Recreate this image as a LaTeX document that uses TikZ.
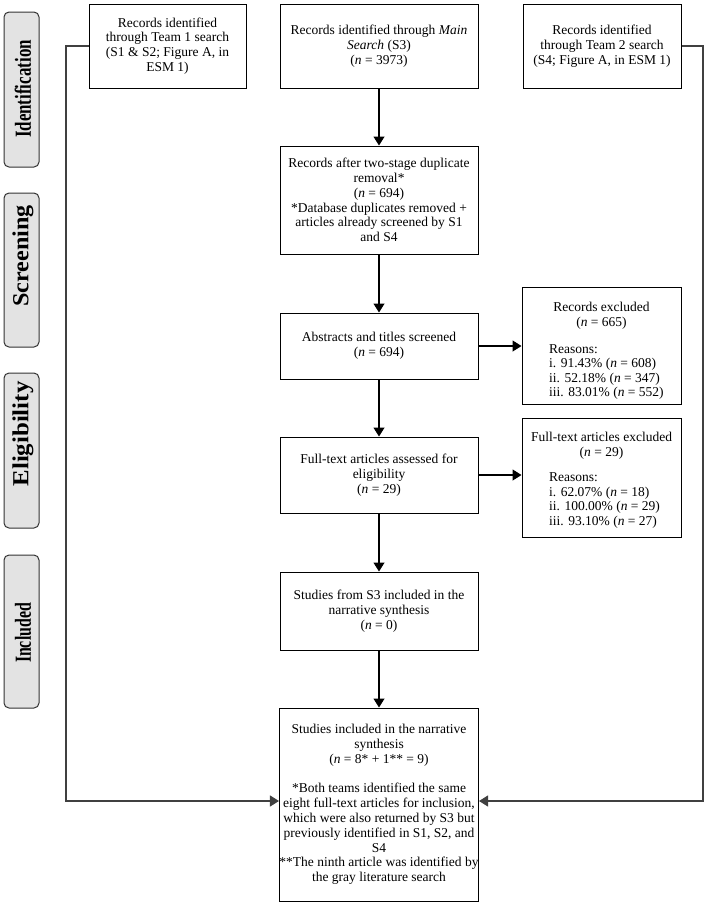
\documentclass[tikz,border=0pt]{standalone}
\usepackage{fontspec}
\setmainfont{Liberation Serif}
\usetikzlibrary{arrows.meta}
\begin{document}
\begin{tikzpicture}[x=1pt,y=-1pt,
  box/.style={draw=black, line width=1pt, align=center, inner sep=0pt,
    font=\fontsize{13.5}{14.8}\selectfont},
  txt/.style={align=center, inner sep=0pt, font=\fontsize{13.5}{14.8}\selectfont},
  txtl/.style={align=left, inner sep=0pt, anchor=west, font=\fontsize{13.5}{14.5}\selectfont},
  phase/.style={draw=black!80, fill=black!11, rounded corners=5pt, line width=1pt, minimum width=35pt, inner sep=0pt},
  phasetext/.style={rotate=90, inner sep=0pt, font=\fontsize{23}{23}\selectfont\bfseries},
  conn/.style={line width=1.2pt, draw=black!75},
  arr/.style={line width=1.2pt, draw=black, -{Triangle[width=11pt,length=9pt]}},
  arrg/.style={line width=1.2pt, draw=black!75, -{Triangle[width=11pt,length=9pt]}}
]
\fill[white] (0,0) rectangle (710,908);
\useasboundingbox (0,0) rectangle (710,908);

% phase labels
\node[phase, minimum height=155pt] (idbox) at (21.5,89.5) {};
\node[phasetext] (idtxt) at (23,89) {\scalebox{0.737}[1]{Identification}};
\node[phase, minimum height=154pt] (scrbox) at (21.5,270) {};
\node[phasetext] (scrtxt) at (23,256) {\scalebox{1.05}[1]{Screening}};
\node[phase, minimum height=155pt] (elbox) at (21.5,450.5) {};
\node[phasetext] (eltxt) at (23,434) {\scalebox{1.08}[1]{Eligibility}};
\node[phase, minimum height=153pt] (inbox) at (21.5,631.5) {};
\node[phasetext] (intxt) at (23,633) {\scalebox{0.69}[1]{Included}};

% main boxes
\node[box, minimum width=157pt, minimum height=84pt] (team1) at (167.5,46)
  {Records identified\\through Team 1 search\\(S1 \& S2; Figure A, in\\ESM 1)};
\node[box, minimum width=198pt, minimum height=84pt] (main) at (379,46)
  {Records identified through \textit{Main}\\\textit{Search} (S3)\\(\textit{n} = 3973)};
\node[box, minimum width=158pt, minimum height=84pt] (team2) at (602,46)
  {Records identified\\through Team 2 search\\(S4; Figure A, in ESM 1)};
\node[box, minimum width=198pt, minimum height=108pt] (dup) at (379,200)
  {Records after two-stage duplicate\\removal*\\(\textit{n} = 694)\\*Database duplicates removed +\\articles already screened by S1\\and S4};
\node[box, minimum width=198pt, minimum height=66pt] (abs) at (379,346)
  {Abstracts and titles screened\\(\textit{n} = 694)};
\node[box, minimum width=198pt, minimum height=76pt] (ft) at (379,475)
  {Full-text articles assessed for\\eligibility\\(\textit{n} = 29)};
\node[box, minimum width=198pt, minimum height=78pt] (s3) at (379,611)
  {Studies from S3 included in the\\narrative synthesis\\(\textit{n} = 0)};
\node[box, minimum width=198pt, minimum height=193pt] (final) at (379,804.5)
  {Studies included in the narrative\\synthesis\\(\textit{n} = 8* + 1** = 9)\\[14.8pt]
   *Both teams identified the same\\eight full-text articles for inclusion,\\which were also returned by S3 but\\previously identified in S1, S2, and\\S4\\**The ninth article was identified by\\the gray literature search};

% exclusion boxes
\node[box, minimum width=159pt, minimum height=117pt] (recex) at (601.5,345.5) {};
\node[txt] (recexT) at (601.5,316) {Records excluded\\(\textit{n} = 665)};
\node[txtl] (recexR) at (549,372) {Reasons:\\i. 91.43\% (\textit{n} = 608)\\ii. 52.18\% (\textit{n} = 347)\\iii. 83.01\% (\textit{n} = 552)};
\node[box, minimum width=159pt, minimum height=119pt] (ftex) at (601.5,477.5) {};
\node[txt] (ftexT) at (601.5,446) {Full-text articles excluded\\(\textit{n} = 29)};
\node[txtl] (ftexR) at (549,500.5) {Reasons:\\i. 62.07\% (\textit{n} = 18)\\ii. 100.00\% (\textit{n} = 29)\\iii. 93.10\% (\textit{n} = 27)};

% arrows
\draw[arr] (main.south) -- (dup.north);
\draw[arr] (dup.south) -- (abs.north);
\draw[arr] (abs.south) -- (ft.north);
\draw[arr] (ft.south) -- (s3.north);
\draw[arr] (s3.south) -- (final.north);
\draw[arr] (abs.east) -- (abs.east -| recex.west);
\draw[arr] (ft.east) -- (ft.east -| ftex.west);

\coordinate (lc) at (66,801);
\coordinate (rc) at (703,801);
\draw[arrg] (team1.west) -| (lc) -- (final.west |- lc);
\draw[arrg] (team2.east) -| (rc) -- (final.east |- rc);
\end{tikzpicture}
\end{document}
